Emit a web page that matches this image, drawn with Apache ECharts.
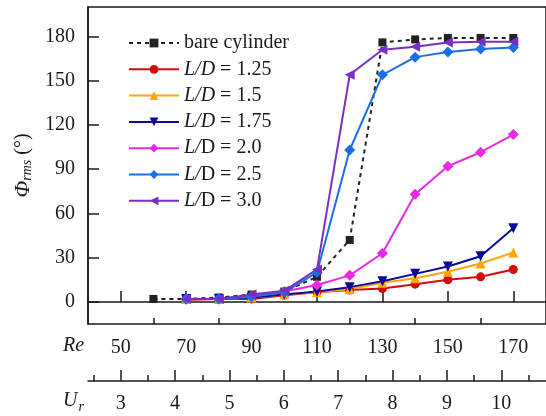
<!DOCTYPE html>
<html>
<head>
<meta charset="utf-8">
<script src="https://cdn.jsdelivr.net/npm/echarts@6/dist/echarts.min.js"></script>
<style>
html, body { margin: 0; padding: 0; background: #fff; }
#main { width: 546px; height: 416px; }
</style>
</head>
<body>
<div id="main"></div>
<script>
// Re values
var reBare = [60, 70, 80, 90, 100, 110, 120, 130, 140, 150, 160, 170];
var re = [70, 80, 90, 100, 110, 120, 130, 140, 150, 160, 170];

// Phi_rms (deg)
var bare  = [2, 2, 3, 5, 7, 17, 42, 176, 178, 179, 179, 179];
var ld125 = [1.5, 2, 2, 4.5, 6.5, 8, 9, 12, 15, 17, 22];
var ld15  = [2, 2, 3, 5, 6.5, 8.5, 13, 16, 20.5, 26, 33.5];
var ld175 = [2, 2, 3, 5, 7, 10, 14, 19, 24, 31, 50];
var ld20  = [2, 2, 4, 7, 11.5, 18, 33, 73, 92, 101.5, 113.5];
var ld25  = [2, 2, 3.5, 6.5, 20, 103, 154, 166, 169.5, 171.5, 172.5];
var ld30  = [2, 2, 5, 7.5, 22, 154, 171, 173, 176, 176.5, 176.5];

var names = ['bare cylinder', 'L/D = 1.25', 'L/D = 1.5', 'L/D = 1.75', 'L/D = 2.0', 'L/D = 2.5', 'L/D = 3.0'];

// tick labels
var reTicks = [50, 70, 90, 110, 130, 150, 170];
var reMinor = [60, 80, 100, 120, 140, 160];
var urTicks = [3, 4, 5, 6, 7, 8, 9, 10];
var urMinor = [2.5, 3.5, 4.5, 5.5, 6.5, 7.5, 8.5, 9.5, 10.5];
var yTicks = [0, 30, 60, 90, 120, 150, 180];

var font = 'Liberation Serif';
var ink = '#1a1a1a';

function pairs(xs, ys) {
    return xs.map(function (x, i) { return [x, ys[i]]; });
}

function line(name, xs, ys, color, symbol, size, rotate, dashed) {
    return {
        name: name,
        type: 'line',
        xAxisIndex: 0,
        yAxisIndex: 0,
        data: pairs(xs, ys),
        symbol: symbol,
        symbolSize: size,
        symbolRotate: rotate || 0,
        itemStyle: { color: color },
        lineStyle: { color: color, width: 2, type: dashed ? [4, 4] : 'solid' }
    };
}

var myChart = echarts.init(document.getElementById('main'));

var option = {
    animation: false,
    grid: [
        { left: 88, right: -10, top: 7, bottom: 92, show: true, borderColor: ink, borderWidth: 1.5 },
        { left: 88, right: -10, top: 380, height: 1 }
    ],
    xAxis: [
        {
            gridIndex: 0, type: 'value', min: 40, max: 180,
            axisLine: { lineStyle: { color: ink, width: 1.5 } },
            axisTick: { inside: true, length: 11, customValues: reTicks, lineStyle: { color: ink, width: 1.5 } },
            axisLabel: { customValues: reTicks, margin: 14, color: ink, fontFamily: font, fontSize: 20 },
            splitLine: { show: false }
        },
        {
            gridIndex: 0, type: 'value', min: 40, max: 180, position: 'bottom',
            axisLine: { show: false },
            axisTick: { inside: true, length: 6, customValues: reMinor, lineStyle: { color: ink, width: 1.5 } },
            axisLabel: { show: false },
            splitLine: { show: false }
        },
        {
            gridIndex: 1, type: 'value', min: 2.398, max: 10.822, position: 'bottom',
            axisLine: { lineStyle: { color: ink, width: 1.5 } },
            axisTick: { inside: true, length: 11, customValues: urTicks, lineStyle: { color: ink, width: 1.5 } },
            axisLabel: { customValues: urTicks, margin: 13, color: ink, fontFamily: font, fontSize: 20 },
            splitLine: { show: false }
        },
        {
            gridIndex: 1, type: 'value', min: 2.398, max: 10.822, position: 'bottom',
            axisLine: { show: false },
            axisTick: { inside: true, length: 6, customValues: urMinor, lineStyle: { color: ink, width: 1.5 } },
            axisLabel: { show: false },
            splitLine: { show: false }
        }
    ],
    yAxis: [
        {
            gridIndex: 0, type: 'value', min: -15, max: 200,
            axisLine: { show: true, lineStyle: { color: ink, width: 1.5 } },
            axisTick: { show: true, inside: true, length: 11, customValues: yTicks, lineStyle: { color: ink, width: 1.5 } },
            axisLabel: { customValues: yTicks, margin: 13, color: ink, fontFamily: font, fontSize: 20 },
            splitLine: { show: false },
            name: '{phi|Φ}{sub|rms} (°)',
            nameLocation: 'middle',
            nameGap: 52,
            nameRotate: 90,
            nameTextStyle: {
                color: ink, fontFamily: font, fontSize: 20,
                rich: {
                    phi: { fontFamily: font, fontSize: 22, fontStyle: 'italic', color: ink },
                    sub: { fontFamily: font, fontSize: 14, fontStyle: 'italic', color: ink, verticalAlign: 'bottom', padding: [8, 0, 0, 0] }
                }
            }
        },
        { gridIndex: 1, type: 'value', show: false, min: 0, max: 1 }
    ],
    legend: {
        data: names,
        orient: 'vertical',
        left: 128,
        top: 33,
        padding: 0,
        itemWidth: 50,
        itemHeight: 11,
        itemGap: 6.3,
        textStyle: {
            color: ink, fontFamily: font, fontSize: 20,
            rich: {
                i: { fontFamily: font, fontSize: 20, fontStyle: 'italic', color: ink },
                n: { fontFamily: font, fontSize: 20, color: ink }
            }
        },
        formatter: function (name) {
            if (name.indexOf('L/D') !== 0) return '{n|' + name + '}';
            var rest = name.slice(3);
            if (name === 'L/D = 1.25' || name === 'L/D = 1.5' || name === 'L/D = 1.75') {
                return '{i|L/D}{n|' + rest + '}';
            }
            return '{i|L/}{n|D' + rest + '}';
        }
    },
    graphic: [
        { type: 'text', left: 63, top: 336, style: { text: 'Re', font: 'italic 20px "Liberation Serif"', fill: ink } },
        {
            type: 'text', left: 63, top: 391,
            style: {
                text: '{u|U}{r|r}',
                fill: ink,
                rich: {
                    u: { fontFamily: font, fontSize: 20, fontStyle: 'italic', fill: ink },
                    r: { fontFamily: font, fontSize: 14, fontStyle: 'italic', fill: ink, padding: [12, 0, 0, 1] }
                }
            }
        }
    ],
    series: [
        line(names[0], reBare, bare, '#222222', 'rect', 8, 0, true),
        line(names[1], re, ld125, '#d40b0b', 'circle', 9, 0, false),
        line(names[2], re, ld15, '#ffa50a', 'triangle', 10, 0, false),
        line(names[3], re, ld175, '#0a0a96', 'triangle', 10, 180, false),
        line(names[4], re, ld20, '#e82ae0', 'diamond', 11, 0, false),
        line(names[5], re, ld25, '#1a6ee6', 'diamond', 11, 0, false),
        line(names[6], re, ld30, '#7a2fc4', 'triangle', 10, 90, false)
    ]
};

myChart.setOption(option);
</script>
</body>
</html>
